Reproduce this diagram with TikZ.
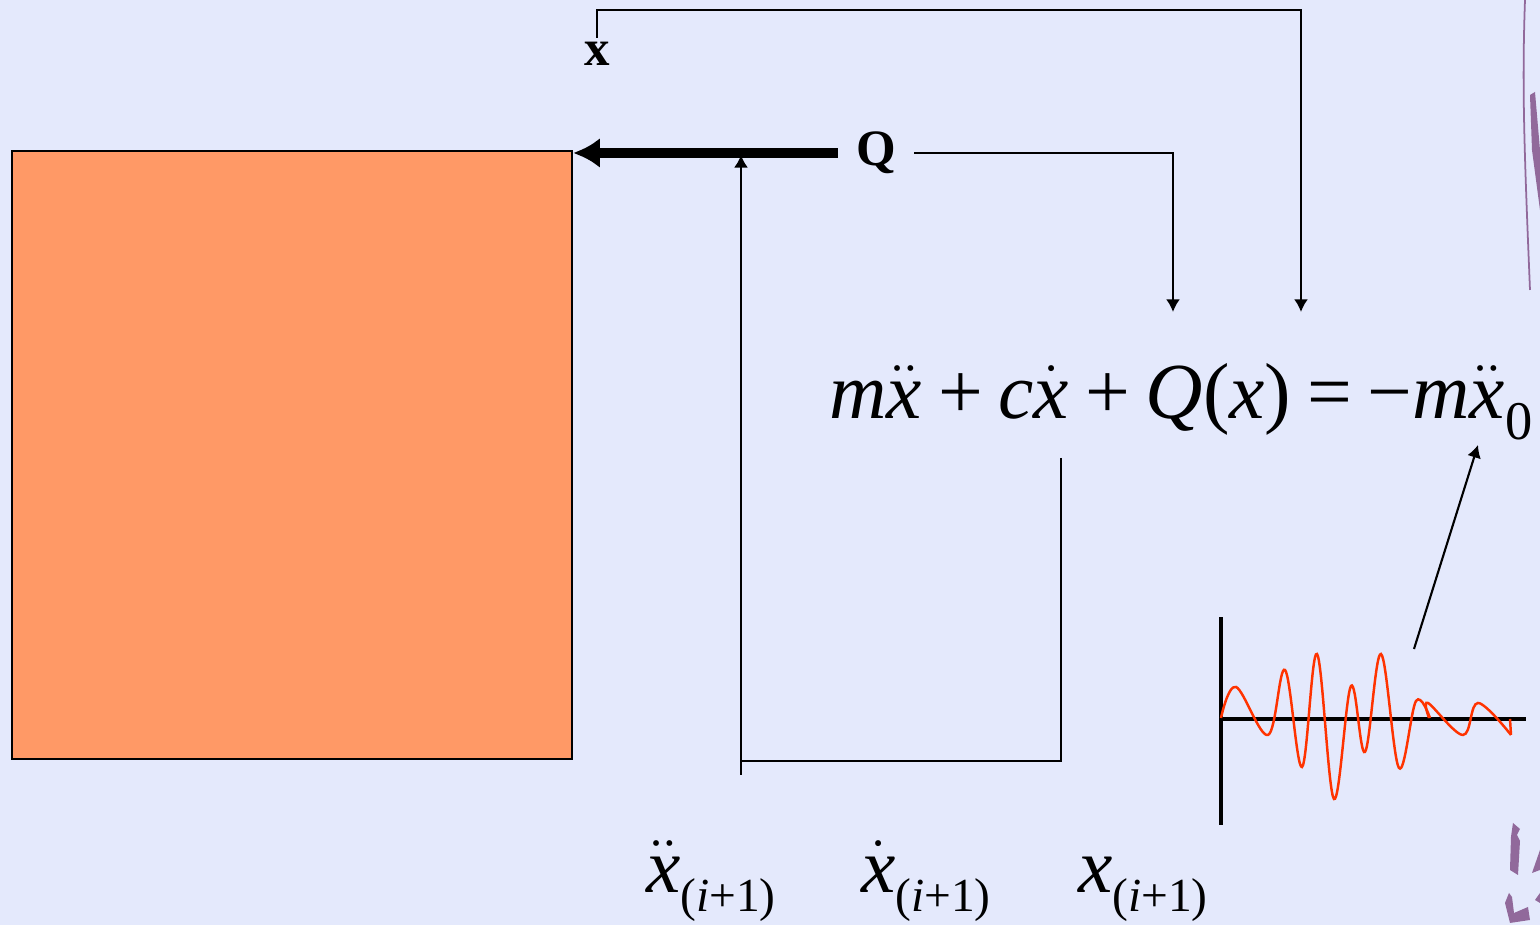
\documentclass[tikz,border=0pt]{standalone}
\usepackage{fontspec}
\newfontfamily\tnr{Liberation Serif}
\usetikzlibrary{arrows.meta,calc,positioning}
\definecolor{PageBlue}{RGB}{228,233,252}
\definecolor{MassOrange}{RGB}{255,153,102}
\definecolor{WaveRed}{RGB}{255,51,0}
\definecolor{InkPurple}{RGB}{145,105,155}
\newcommand{\tv}[1]{\mbox{\itshape #1}}
\newcommand{\op}[1]{\hspace{0.2em}#1\hspace{0.2em}}
\newcommand{\subip}{\raisebox{-5.4pt}{\fontsize{13.5}{14}\selectfont(\textit{i}+1)}}

\begin{document}
\begin{tikzpicture}[>={Latex[length=3.6pt,width=4pt]},line width=0.6pt,
  lbl/.style={font=\tnr\bfseries\fontsize{14.5}{16}\selectfont},
  big/.style={font=\tnr\fontsize{22}{24}\selectfont,inner sep=0pt}]
\useasboundingbox (0,0) rectangle (15.4,9.25);
\fill[PageBlue] (0,0) rectangle (15.4,9.25);
% background scraps at the right edge
\draw[InkPurple,line width=0.5pt] (15.25,9.25) .. controls (15.22,8.40) and (15.24,7.80) .. (15.30,6.35);
\fill[InkPurple] (15.30,8.30) -- (15.35,8.33) -- (15.40,7.75) -- (15.40,7.15) -- (15.36,7.45) -- (15.32,7.75) -- cycle;
\fill[InkPurple] (15.13,1.02) -- (15.20,0.96) -- (15.17,0.90) -- (15.20,0.84) -- (15.18,0.50) -- (15.10,0.55) -- (15.11,0.88) -- cycle;
\fill[InkPurple] (15.05,0.22) -- (15.09,0.32) -- (15.12,0.28) -- (15.14,0.12) -- (15.28,0.18) -- (15.30,0.05) -- (15.10,0.02) -- cycle;
\fill[InkPurple] (15.32,0.52) -- (15.40,0.75) -- (15.40,0.55) -- cycle;
\fill[InkPurple] (15.35,0.25) -- (15.40,0.32) -- (15.40,0.22) -- cycle;
% mass
\node[draw,fill=MassOrange,minimum width=56mm,minimum height=60.8mm,anchor=south west,inner sep=0pt] (mass) at (0.11,1.65) {};
\node[lbl,inner xsep=5pt] (q) at (8.76,7.72) {Q};
\draw[-{Latex[length=7.6pt,width=8.5pt]},line width=2.8pt] (q.west) -- (q.west -| mass.east);
\node[lbl,inner sep=1pt] (xl) at (5.97,8.71) {x};
% equation of motion
\node[big,font=\tnr\fontsize{22.6}{25}\selectfont] (eq) at (11.81,5.23) {\tv{m}$\ddot{\tv{x}}$\op{+}\tv{c}$\dot{\tv{x}}$\op{+}\tv{Q}(\tv{x})\op{=}\char"2212\tv{m}$\ddot{\tv{x}}$\raisebox{-6pt}{\fontsize{15.5}{16}\selectfont 0}};
\coordinate (inQ) at (11.73,6.13);
\coordinate (topR) at (13.01,9.15);
\coordinate (inX) at (13.01,6.13);
\draw[->] (q.east) -| (inQ);
\draw[->] (xl.north) |- (topR) -- (inX);
% time step loop
\coordinate (outX) at (10.61,4.67);
\coordinate (loopC) at (7.41,1.64);
\coordinate (accB) at (7.41,1.50);
\coordinate (accT) at (7.41,7.70);
\draw (outX) |- (loopC);
\draw[->] (accB) -- (accT);
\node[big,anchor=base west] (acc) at (6.45,0.32) {$\ddot{\tv{x}}$\subip};
\node[big,anchor=base west] (vel) at (8.60,0.32) {$\dot{\tv{x}}$\subip};
\node[big,anchor=base west] (dis) at (10.77,0.32) {\tv{x}\subip};
% ground motion record
\draw[line width=0.9pt] (12.21,1.00) -- (12.21,3.08);
\draw[line width=0.9pt] (12.21,2.06) -- (15.26,2.06);
\draw[WaveRed,line width=0.7pt] plot[smooth,tension=0.6] coordinates {(12.21,2.07) (12.36,2.38) (12.68,1.90) (12.85,2.55) (13.02,1.58) (13.17,2.71) (13.34,1.26) (13.51,2.39) (13.65,1.73) (13.81,2.71) (13.99,1.57) (14.16,2.24) (14.30,2.07)};
\draw[WaveRed,line width=0.7pt] plot[smooth,tension=0.6] coordinates {(14.29,2.07) (14.28,2.22) (14.63,1.90) (14.78,2.22) (15.11,1.90)};
\draw[WaveRed,line width=0.7pt] (15.11,1.90) -- (15.10,2.06);
\coordinate (wTip) at (14.14,2.76);
\coordinate (eqSub) at (14.78,4.80);
\draw[->] (wTip) -- (eqSub);
\end{tikzpicture}
\end{document}
